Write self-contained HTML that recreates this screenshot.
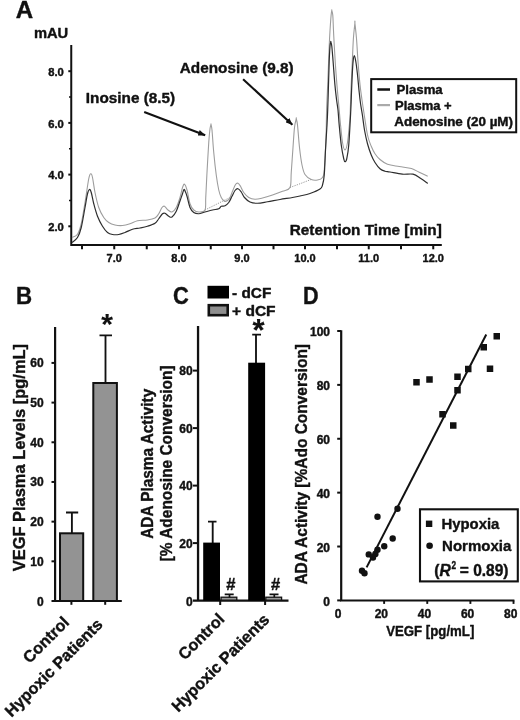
<!DOCTYPE html>
<html lang="en"><head><meta charset="utf-8"><title>Figure</title>
<style>
html,body{margin:0;padding:0;background:#fff;}
body{width:520px;height:720px;overflow:hidden;}
svg{display:block;}
text{font-family:"Liberation Sans",Arial,Helvetica,sans-serif;font-weight:bold;fill:#111;stroke:#111;stroke-width:0.4px;stroke-linejoin:round;}
</style></head><body>
<svg width="520" height="720" viewBox="0 0 520 720">
<rect width="520" height="720" fill="#fff"/>
<g id="panelA">
<text x="15.80" y="18.20" font-size="24" text-anchor="start" textLength="17.4" lengthAdjust="spacingAndGlyphs" >A</text>
<text x="33.90" y="38.30" font-size="14.5" text-anchor="start" textLength="34.3" lengthAdjust="spacingAndGlyphs" >mAU</text>
<path d="M71.25,45 V245 H441.8" fill="none" stroke="#111" stroke-width="2"/>
<line x1="68.3" x2="71" y1="71.20" y2="71.20" stroke="#111" stroke-width="2"/>
<text x="63.80" y="75.90" font-size="11" text-anchor="end" textLength="15.6" lengthAdjust="spacingAndGlyphs" >8.0</text>
<line x1="68.3" x2="71" y1="122.90" y2="122.90" stroke="#111" stroke-width="2"/>
<text x="63.80" y="127.60" font-size="11" text-anchor="end" textLength="15.6" lengthAdjust="spacingAndGlyphs" >6.0</text>
<line x1="68.3" x2="71" y1="174.60" y2="174.60" stroke="#111" stroke-width="2"/>
<text x="63.80" y="179.30" font-size="11" text-anchor="end" textLength="15.6" lengthAdjust="spacingAndGlyphs" >4.0</text>
<line x1="68.3" x2="71" y1="226.30" y2="226.30" stroke="#111" stroke-width="2"/>
<text x="63.80" y="231.00" font-size="11" text-anchor="end" textLength="15.6" lengthAdjust="spacingAndGlyphs" >2.0</text>
<line x1="69" x2="71" y1="97.05" y2="97.05" stroke="#111" stroke-width="1.6"/>
<line x1="69" x2="71" y1="148.75" y2="148.75" stroke="#111" stroke-width="1.6"/>
<line x1="69" x2="71" y1="200.45" y2="200.45" stroke="#111" stroke-width="1.6"/>
<line x1="82.00" x2="82.00" y1="245" y2="249.3" stroke="#111" stroke-width="2"/>
<line x1="114.25" x2="114.25" y1="245" y2="249.3" stroke="#111" stroke-width="2"/>
<text x="114.25" y="262.10" font-size="11" text-anchor="middle" >7.0</text>
<line x1="146.75" x2="146.75" y1="245" y2="249.3" stroke="#111" stroke-width="2"/>
<line x1="179.00" x2="179.00" y1="245" y2="249.3" stroke="#111" stroke-width="2"/>
<text x="179.00" y="262.10" font-size="11" text-anchor="middle" >8.0</text>
<line x1="210.75" x2="210.75" y1="245" y2="249.3" stroke="#111" stroke-width="2"/>
<line x1="242.00" x2="242.00" y1="245" y2="249.3" stroke="#111" stroke-width="2"/>
<text x="242.00" y="262.10" font-size="11" text-anchor="middle" >9.0</text>
<line x1="273.50" x2="273.50" y1="245" y2="249.3" stroke="#111" stroke-width="2"/>
<line x1="305.00" x2="305.00" y1="245" y2="249.3" stroke="#111" stroke-width="2"/>
<text x="305.00" y="262.10" font-size="11" text-anchor="middle" >10.0</text>
<line x1="337.00" x2="337.00" y1="245" y2="249.3" stroke="#111" stroke-width="2"/>
<line x1="368.75" x2="368.75" y1="245" y2="249.3" stroke="#111" stroke-width="2"/>
<text x="368.75" y="262.10" font-size="11" text-anchor="middle" >11.0</text>
<line x1="401.00" x2="401.00" y1="245" y2="249.3" stroke="#111" stroke-width="2"/>
<line x1="433.25" x2="433.25" y1="245" y2="249.3" stroke="#111" stroke-width="2"/>
<text x="433.25" y="262.10" font-size="11" text-anchor="middle" >12.0</text>
<text x="289.80" y="234.60" font-size="14.8" text-anchor="start" textLength="152.0" lengthAdjust="spacingAndGlyphs" >Retention Time [min]</text>
<text x="85.80" y="103.20" font-size="15.4" text-anchor="start" textLength="89.4" lengthAdjust="spacingAndGlyphs" >Inosine (8.5)</text>
<text x="179.80" y="73.20" font-size="15.4" text-anchor="start" textLength="113.9" lengthAdjust="spacingAndGlyphs" >Adenosine (9.8)</text>
<defs><marker id="ah" viewBox="0 0 10 8" refX="9.6" refY="4" markerWidth="7.4" markerHeight="5.8" markerUnits="userSpaceOnUse" orient="auto"><path d="M0,0 L10,4 L0,8 Z" fill="#111"/></marker></defs>
<line x1="144.2" y1="111.9" x2="205.2" y2="135.3" stroke="#111" stroke-width="2.1" marker-end="url(#ah)"/>
<line x1="243.1" y1="79.2" x2="292.4" y2="124.8" stroke="#111" stroke-width="2.1" marker-end="url(#ah)"/>
<path d="M205,210 L230,197.5" fill="none" stroke="#999" stroke-width="1" stroke-dasharray="1.2,1.2"/>
<path d="M290,187.5 L300,183.75 L311,179.5" fill="none" stroke="#999" stroke-width="1" stroke-dasharray="1.2,1.2"/>
<path d="M72.00,237.50 C72.92,236.96 75.96,236.54 77.50,234.25 C79.04,231.96 80.00,229.04 81.25,223.75 C82.50,218.46 83.75,210.00 85.00,202.50 C86.25,195.00 87.79,183.54 88.75,178.75 C89.71,173.96 90.12,173.96 90.75,173.75 C91.38,173.54 91.79,174.38 92.50,177.50 C93.21,180.62 93.96,187.50 95.00,192.50 C96.04,197.50 97.29,203.33 98.75,207.50 C100.21,211.67 102.08,215.00 103.75,217.50 C105.42,220.00 106.88,221.25 108.75,222.50 C110.62,223.75 112.71,224.50 115.00,225.00 C117.29,225.50 120.00,225.71 122.50,225.50 C125.00,225.29 127.50,224.54 130.00,223.75 C132.50,222.96 134.58,221.38 137.50,220.75 C140.42,220.12 144.58,220.46 147.50,220.00 C150.42,219.54 153.12,219.04 155.00,218.00 C156.88,216.96 157.58,215.50 158.75,213.75 C159.92,212.00 161.04,208.75 162.00,207.50 C162.96,206.25 163.50,205.83 164.50,206.25 C165.50,206.67 166.75,209.04 168.00,210.00 C169.25,210.96 170.62,212.42 172.00,212.00 C173.38,211.58 174.92,209.92 176.25,207.50 C177.58,205.08 178.96,200.83 180.00,197.50 C181.04,194.17 181.75,189.71 182.50,187.50 C183.25,185.29 183.75,183.83 184.50,184.25 C185.25,184.67 186.08,186.75 187.00,190.00 C187.92,193.25 188.88,200.42 190.00,203.75 C191.12,207.08 192.29,208.62 193.75,210.00 C195.21,211.38 196.88,212.00 198.75,212.00 C200.62,212.00 203.83,212.42 205.00,210.00 C206.17,207.58 205.42,203.75 205.75,197.50 C206.08,191.25 206.50,181.67 207.00,172.50 C207.50,163.33 208.25,149.79 208.75,142.50 C209.25,135.21 209.62,131.75 210.00,128.75 C210.38,125.75 210.83,125.21 211.00,124.50 C211.17,123.79 210.83,123.58 211.00,124.50 C211.17,125.42 211.54,125.33 212.00,130.00 C212.46,134.67 213.04,145.00 213.75,152.50 C214.46,160.00 215.42,168.75 216.25,175.00 C217.08,181.25 217.92,186.25 218.75,190.00 C219.58,193.75 220.29,195.62 221.25,197.50 C222.21,199.38 223.46,200.75 224.50,201.25 C225.54,201.75 226.58,201.12 227.50,200.50 C228.42,199.88 229.17,199.04 230.00,197.50 C230.83,195.96 231.58,193.42 232.50,191.25 C233.42,189.08 234.58,185.83 235.50,184.50 C236.42,183.17 237.17,182.96 238.00,183.25 C238.83,183.54 239.54,184.71 240.50,186.25 C241.46,187.79 242.38,190.62 243.75,192.50 C245.12,194.38 246.88,196.38 248.75,197.50 C250.62,198.62 252.71,199.17 255.00,199.25 C257.29,199.33 259.58,198.71 262.50,198.00 C265.42,197.29 269.17,196.12 272.50,195.00 C275.83,193.88 279.58,192.50 282.50,191.25 C285.42,190.00 288.54,190.62 290.00,187.50 C291.46,184.38 290.75,179.17 291.25,172.50 C291.75,165.83 292.46,155.00 293.00,147.50 C293.54,140.00 293.96,132.29 294.50,127.50 C295.04,122.71 295.96,120.21 296.25,118.75 C296.54,117.29 296.04,117.71 296.25,118.75 C296.46,119.79 296.96,120.21 297.50,125.00 C298.04,129.79 298.75,140.83 299.50,147.50 C300.25,154.17 301.08,160.50 302.00,165.00 C302.92,169.50 303.46,172.08 305.00,174.50 C306.54,176.92 309.17,178.58 311.25,179.50 C313.33,180.42 315.62,180.33 317.50,180.00 C319.38,179.67 321.38,179.17 322.50,177.50 C323.62,175.83 323.67,176.67 324.25,170.00 C324.83,163.33 325.61,147.50 326.00,137.50 C326.39,127.50 326.32,118.82 326.60,110.00 C326.88,101.18 327.38,92.17 327.70,84.60 C328.02,77.03 328.25,71.00 328.50,64.60 C328.75,58.20 328.95,51.83 329.20,46.20 C329.45,40.57 329.68,35.93 330.00,30.80 C330.32,25.67 330.80,18.78 331.10,15.40 C331.40,12.02 331.68,11.32 331.80,10.50 C331.92,9.68 331.63,9.68 331.80,10.50 C331.97,11.32 332.52,12.02 332.80,15.40 C333.08,18.78 333.25,25.67 333.50,30.80 C333.75,35.93 333.98,40.57 334.30,46.20 C334.62,51.83 334.97,58.20 335.40,64.60 C335.83,71.00 336.42,78.70 336.90,84.60 C337.38,90.50 337.92,95.77 338.30,100.00 C338.68,104.23 338.87,106.25 339.20,110.00 C339.53,113.75 339.75,117.08 340.30,122.50 C340.85,127.92 341.72,137.92 342.50,142.50 C343.28,147.08 344.17,150.00 345.00,150.00 C345.83,150.00 346.70,147.50 347.50,142.50 C348.30,137.50 349.33,125.42 349.80,120.00 C350.27,114.58 350.07,115.90 350.30,110.00 C350.53,104.10 350.87,92.68 351.20,84.60 C351.53,76.52 351.93,69.18 352.30,61.50 C352.67,53.82 352.97,44.92 353.40,38.50 C353.83,32.08 354.65,25.58 354.90,23.00 C355.15,20.42 354.63,20.42 354.90,23.00 C355.17,25.58 355.98,32.08 356.50,38.50 C357.02,44.92 357.42,53.82 358.00,61.50 C358.58,69.18 359.33,78.18 360.00,84.60 C360.67,91.02 361.37,95.43 362.00,100.00 C362.63,104.57 362.88,106.17 363.80,112.00 C364.72,117.83 366.26,129.29 367.50,135.00 C368.74,140.71 370.00,143.12 371.25,146.25 C372.50,149.38 373.54,151.54 375.00,153.75 C376.46,155.96 377.92,157.75 380.00,159.50 C382.08,161.25 384.30,163.08 387.50,164.25 C390.70,165.42 395.20,165.79 399.20,166.50 C403.20,167.21 408.17,167.53 411.50,168.50 C414.83,169.47 416.50,171.02 419.20,172.30 C421.90,173.58 426.28,175.55 427.70,176.20" fill="none" stroke="#9d9d9d" stroke-width="1.1" stroke-linejoin="round"/>
<path d="M72.00,242.50 C72.92,241.67 75.96,240.00 77.50,237.50 C79.04,235.00 80.00,232.50 81.25,227.50 C82.50,222.50 83.96,213.12 85.00,207.50 C86.04,201.88 86.75,196.75 87.50,193.75 C88.25,190.75 88.88,189.71 89.50,189.50 C90.12,189.29 90.54,190.12 91.25,192.50 C91.96,194.88 92.71,199.79 93.75,203.75 C94.79,207.71 96.04,212.50 97.50,216.25 C98.96,220.00 100.83,223.54 102.50,226.25 C104.17,228.96 105.83,231.12 107.50,232.50 C109.17,233.88 110.62,234.17 112.50,234.50 C114.38,234.83 116.67,234.83 118.75,234.50 C120.83,234.17 122.71,233.38 125.00,232.50 C127.29,231.62 130.00,230.00 132.50,229.25 C135.00,228.50 137.50,228.50 140.00,228.00 C142.50,227.50 145.00,227.04 147.50,226.25 C150.00,225.46 153.12,224.50 155.00,223.25 C156.88,222.00 157.50,220.33 158.75,218.75 C160.00,217.17 161.46,214.67 162.50,213.75 C163.54,212.83 163.96,212.83 165.00,213.25 C166.04,213.67 167.58,215.62 168.75,216.25 C169.92,216.88 170.75,217.83 172.00,217.00 C173.25,216.17 174.92,213.92 176.25,211.25 C177.58,208.58 178.96,203.92 180.00,201.00 C181.04,198.08 181.83,195.67 182.50,193.75 C183.17,191.83 183.50,189.79 184.00,189.50 C184.50,189.21 185.00,190.88 185.50,192.00 C186.00,193.12 186.25,193.67 187.00,196.25 C187.75,198.83 188.88,204.79 190.00,207.50 C191.12,210.21 192.29,211.46 193.75,212.50 C195.21,213.54 196.88,213.83 198.75,213.75 C200.62,213.67 202.71,212.62 205.00,212.00 C207.29,211.38 210.21,210.54 212.50,210.00 C214.79,209.46 217.29,209.38 218.75,208.75 C220.21,208.12 220.21,206.75 221.25,206.25 C222.29,205.75 223.75,206.38 225.00,205.75 C226.25,205.12 227.58,204.08 228.75,202.50 C229.92,200.92 230.96,198.25 232.00,196.25 C233.04,194.25 234.00,191.75 235.00,190.50 C236.00,189.25 236.96,188.50 238.00,188.75 C239.04,189.00 240.17,190.54 241.25,192.00 C242.33,193.46 243.04,195.83 244.50,197.50 C245.96,199.17 247.83,201.04 250.00,202.00 C252.17,202.96 254.58,203.29 257.50,203.25 C260.42,203.21 263.75,202.38 267.50,201.75 C271.25,201.12 275.83,200.21 280.00,199.50 C284.17,198.79 289.17,198.08 292.50,197.50 C295.83,196.92 297.08,196.67 300.00,196.00 C302.92,195.33 306.67,194.67 310.00,193.50 C313.33,192.33 317.92,190.42 320.00,189.00 C322.08,187.58 321.79,187.33 322.50,185.00 C323.21,182.67 323.75,180.83 324.25,175.00 C324.75,169.17 325.04,158.33 325.50,150.00 C325.96,141.67 326.63,131.67 327.00,125.00 C327.37,118.33 327.45,116.73 327.70,110.00 C327.95,103.27 328.25,92.68 328.50,84.60 C328.75,76.52 328.95,67.90 329.20,61.50 C329.45,55.10 329.73,49.48 330.00,46.20 C330.27,42.92 330.67,42.53 330.80,41.80 C330.93,41.07 330.63,41.07 330.80,41.80 C330.97,42.53 331.42,42.92 331.80,46.20 C332.18,49.48 332.58,55.10 333.10,61.50 C333.62,67.90 334.32,78.18 334.90,84.60 C335.48,91.02 336.08,95.77 336.60,100.00 C337.12,104.23 337.57,105.83 338.00,110.00 C338.43,114.17 338.66,119.17 339.20,125.00 C339.74,130.83 340.49,139.38 341.25,145.00 C342.01,150.62 343.12,155.96 343.75,158.75 C344.38,161.54 344.50,161.75 345.00,161.75 C345.50,161.75 346.12,161.54 346.75,158.75 C347.38,155.96 348.07,153.12 348.75,145.00 C349.43,136.88 350.34,118.78 350.80,110.00 C351.26,101.22 351.25,98.33 351.50,92.30 C351.75,86.27 352.03,78.93 352.30,73.80 C352.57,68.67 352.77,64.52 353.10,61.50 C353.43,58.48 353.85,55.70 354.30,55.70 C354.75,55.70 355.28,58.48 355.80,61.50 C356.32,64.52 356.83,68.67 357.40,73.80 C357.97,78.93 358.67,87.27 359.20,92.30 C359.73,97.33 360.07,100.22 360.60,104.00 C361.13,107.78 361.75,110.67 362.40,115.00 C363.05,119.33 363.65,125.21 364.50,130.00 C365.35,134.79 366.38,139.58 367.50,143.75 C368.62,147.92 370.00,151.88 371.25,155.00 C372.50,158.12 373.54,160.21 375.00,162.50 C376.46,164.79 378.33,167.29 380.00,168.75 C381.67,170.21 383.33,170.71 385.00,171.25 C386.67,171.79 387.12,171.51 390.00,172.00 C392.88,172.49 398.47,173.83 402.30,174.20 C406.13,174.57 409.92,173.48 413.00,174.20 C416.08,174.92 418.35,176.97 420.80,178.50 C423.25,180.03 426.55,182.58 427.70,183.40" fill="none" stroke="#2e2e2e" stroke-width="1.2" stroke-linejoin="round"/>
<rect x="371.2" y="79.1" width="145" height="53.2" fill="#fff" stroke="#111" stroke-width="2"/>
<line x1="377.3" x2="390" y1="89.5" y2="89.5" stroke="#111" stroke-width="2.5"/>
<line x1="377.3" x2="390" y1="105.1" y2="105.1" stroke="#aaa" stroke-width="2.2"/>
<text x="396.50" y="93.60" font-size="12.2" text-anchor="start" textLength="46.2" lengthAdjust="spacingAndGlyphs" >Plasma</text>
<text x="395.00" y="109.80" font-size="12.2" text-anchor="start" textLength="56.7" lengthAdjust="spacingAndGlyphs" >Plasma +</text>
<text x="394.30" y="126.20" font-size="12.2" text-anchor="start" textLength="118.7" lengthAdjust="spacingAndGlyphs" >Adenosine (20 µM)</text>
</g>
<g id="panelB">
<text x="15.90" y="304.30" font-size="24" text-anchor="start" textLength="16.1" lengthAdjust="spacingAndGlyphs" >B</text>
<text x="0.00" y="0.00" font-size="16.3" text-anchor="start" textLength="227.2" lengthAdjust="spacingAndGlyphs" transform="translate(24.90,571.20) rotate(-90)" >VEGF Plasma Levels [pg/mL]</text>
<path d="M55.1,327 V601 " fill="none" stroke="#111" stroke-width="2.2"/>
<path d="M51.5,601 H121.8" fill="none" stroke="#111" stroke-width="2.2"/>
<text x="43.60" y="606.00" font-size="12" text-anchor="end" >0</text>
<line x1="51.5" x2="54.5" y1="561.32" y2="561.32" stroke="#111" stroke-width="2"/>
<text x="43.60" y="565.72" font-size="12" text-anchor="end" >10</text>
<line x1="51.5" x2="54.5" y1="521.64" y2="521.64" stroke="#111" stroke-width="2"/>
<text x="43.60" y="526.04" font-size="12" text-anchor="end" >20</text>
<line x1="51.5" x2="54.5" y1="481.96" y2="481.96" stroke="#111" stroke-width="2"/>
<text x="43.60" y="486.36" font-size="12" text-anchor="end" >30</text>
<line x1="51.5" x2="54.5" y1="442.28" y2="442.28" stroke="#111" stroke-width="2"/>
<text x="43.60" y="446.68" font-size="12" text-anchor="end" >40</text>
<line x1="51.5" x2="54.5" y1="402.60" y2="402.60" stroke="#111" stroke-width="2"/>
<text x="43.60" y="407.00" font-size="12" text-anchor="end" >50</text>
<line x1="51.5" x2="54.5" y1="362.92" y2="362.92" stroke="#111" stroke-width="2"/>
<text x="43.60" y="367.32" font-size="12" text-anchor="end" >60</text>
<path d="M71.90,533.00 V512.50 M66.00,512.50 H78.20" fill="none" stroke="#111" stroke-width="1.85"/>
<path d="M105.50,383.00 V335.30 M99.50,335.30 H112.00" fill="none" stroke="#111" stroke-width="1.85"/>
<rect x="60.00" y="533.30" width="23.20" height="67.70" fill="#939393" stroke="#111" stroke-width="2"/>
<rect x="93.30" y="383.00" width="23.60" height="218.00" fill="#939393" stroke="#111" stroke-width="2"/>
<line x1="71.40" x2="71.40" y1="601" y2="604.8" stroke="#111" stroke-width="2"/>
<line x1="105.20" x2="105.20" y1="601" y2="604.8" stroke="#111" stroke-width="2"/>
<text x="107.00" y="334.20" font-size="30" text-anchor="middle" style="stroke-width:0.1px">*</text>
<text x="0.00" y="0.00" font-size="16.2" text-anchor="end" transform="translate(70.30,623.30) rotate(-45)" >Control</text>
<text x="0.00" y="0.00" font-size="16.2" text-anchor="end" transform="translate(103.70,625.50) rotate(-45)" >Hypoxic Patients</text>
</g>
<g id="panelC">
<text x="173.10" y="304.20" font-size="24" text-anchor="start" textLength="15.8" lengthAdjust="spacingAndGlyphs" >C</text>
<text x="0.00" y="0.00" font-size="16.3" text-anchor="start" textLength="150.0" lengthAdjust="spacingAndGlyphs" transform="translate(152.70,538.80) rotate(-90)" >ADA Plasma Activity</text>
<text x="0.00" y="0.00" font-size="16.3" text-anchor="start" textLength="196.0" lengthAdjust="spacingAndGlyphs" transform="translate(171.70,561.40) rotate(-90)" >[% Adenosine Conversion]</text>
<rect x="207.5" y="285.8" width="21.5" height="12.7" fill="#000"/>
<rect x="208.8" y="305.2" width="18.9" height="10" fill="#8e8e8e" stroke="#111" stroke-width="2.6"/>
<text x="232.00" y="297.80" font-size="15.4" text-anchor="start" textLength="39.3" lengthAdjust="spacingAndGlyphs" >- dCF</text>
<text x="232.00" y="315.70" font-size="15.3" text-anchor="start" textLength="43.6" lengthAdjust="spacingAndGlyphs" >+ dCF</text>
<path d="M198.05,326 V600.6" fill="none" stroke="#111" stroke-width="2.3"/>
<path d="M193,600.6 H288.5" fill="none" stroke="#111" stroke-width="2.4"/>
<text x="192.60" y="605.80" font-size="12" text-anchor="end" >0</text>
<line x1="193" x2="197" y1="543.10" y2="543.10" stroke="#111" stroke-width="2"/>
<text x="192.60" y="547.50" font-size="12" text-anchor="end" >20</text>
<line x1="193" x2="197" y1="485.60" y2="485.60" stroke="#111" stroke-width="2"/>
<text x="192.60" y="490.00" font-size="12" text-anchor="end" >40</text>
<line x1="193" x2="197" y1="428.10" y2="428.10" stroke="#111" stroke-width="2"/>
<text x="192.60" y="432.50" font-size="12" text-anchor="end" >60</text>
<line x1="193" x2="197" y1="370.60" y2="370.60" stroke="#111" stroke-width="2"/>
<text x="192.60" y="375.00" font-size="12" text-anchor="end" >80</text>
<path d="M212.70,544.00 V521.60 M208.00,521.60 H216.50" fill="none" stroke="#111" stroke-width="1.85"/>
<path d="M256.00,364.00 V334.60 M252.20,334.60 H261.00" fill="none" stroke="#111" stroke-width="1.85"/>
<rect x="203.2" y="542.6" width="16.8" height="58" fill="#000"/>
<rect x="248.2" y="362.7" width="16.9" height="238" fill="#000"/>
<path d="M229.50,598 V594.3 M224.70,594.3 H233.70" fill="none" stroke="#111" stroke-width="1.7"/>
<rect x="221.00" y="597.2" width="15.80" height="3" fill="#999" stroke="#111" stroke-width="1.3"/>
<text x="230.90" y="590.00" font-size="16.5" text-anchor="middle" >#</text>
<path d="M274.30,598 V594.3 M269.50,594.3 H278.50" fill="none" stroke="#111" stroke-width="1.7"/>
<rect x="265.80" y="597.2" width="15.80" height="3" fill="#999" stroke="#111" stroke-width="1.3"/>
<text x="275.70" y="590.00" font-size="16.5" text-anchor="middle" >#</text>
<line x1="220.20" x2="220.20" y1="600.6" y2="605" stroke="#111" stroke-width="2"/>
<line x1="265.10" x2="265.10" y1="600.6" y2="605" stroke="#111" stroke-width="2"/>
<text x="258.60" y="341.40" font-size="31" text-anchor="middle" style="stroke-width:0.1px">*</text>
<text x="0.00" y="0.00" font-size="16.2" text-anchor="end" transform="translate(225.40,620.00) rotate(-45)" >Control</text>
<text x="0.00" y="0.00" font-size="16.2" text-anchor="end" transform="translate(270.40,620.60) rotate(-45)" >Hypoxic Patients</text>
</g>
<g id="panelD">
<text x="302.90" y="304.30" font-size="24" text-anchor="start" textLength="15.6" lengthAdjust="spacingAndGlyphs" >D</text>
<text x="0.00" y="0.00" font-size="15.6" text-anchor="start" textLength="240.6" lengthAdjust="spacingAndGlyphs" transform="translate(306.90,584.60) rotate(-90)" >ADA Activity [%Ado Conversion]</text>
<path d="M341.2,330.2 V600.5 H514.4" fill="none" stroke="#111" stroke-width="2.2"/>
<line x1="337.2" x2="341" y1="600.40" y2="600.40" stroke="#111" stroke-width="2"/>
<text x="330.00" y="605.80" font-size="12" text-anchor="end" >0</text>
<line x1="337.2" x2="341" y1="546.52" y2="546.52" stroke="#111" stroke-width="2"/>
<text x="330.00" y="551.62" font-size="12" text-anchor="end" >20</text>
<line x1="337.2" x2="341" y1="492.64" y2="492.64" stroke="#111" stroke-width="2"/>
<text x="330.00" y="497.74" font-size="12" text-anchor="end" >40</text>
<line x1="337.2" x2="341" y1="438.76" y2="438.76" stroke="#111" stroke-width="2"/>
<text x="330.00" y="443.86" font-size="12" text-anchor="end" >60</text>
<line x1="337.2" x2="341" y1="384.88" y2="384.88" stroke="#111" stroke-width="2"/>
<text x="330.00" y="389.98" font-size="12" text-anchor="end" >80</text>
<line x1="337.2" x2="341" y1="331.00" y2="331.00" stroke="#111" stroke-width="2"/>
<text x="330.00" y="336.10" font-size="12" text-anchor="end" >100</text>
<text x="338.20" y="617.80" font-size="12" text-anchor="middle" >0</text>
<line x1="384.13" x2="384.13" y1="600.5" y2="603.9" stroke="#111" stroke-width="1.9"/>
<text x="381.33" y="617.80" font-size="12" text-anchor="middle" >20</text>
<line x1="427.26" x2="427.26" y1="600.5" y2="603.9" stroke="#111" stroke-width="1.9"/>
<text x="424.46" y="617.80" font-size="12" text-anchor="middle" >40</text>
<line x1="470.39" x2="470.39" y1="600.5" y2="603.9" stroke="#111" stroke-width="1.9"/>
<text x="467.59" y="617.80" font-size="12" text-anchor="middle" >60</text>
<line x1="513.52" x2="513.52" y1="600.5" y2="603.9" stroke="#111" stroke-width="1.9"/>
<text x="510.72" y="617.80" font-size="12" text-anchor="middle" >80</text>
<text x="386.20" y="635.90" font-size="14.8" text-anchor="start" textLength="88.1" lengthAdjust="spacingAndGlyphs" >VEGF [pg/mL]</text>
<line x1="366.6" y1="567.4" x2="486.25" y2="334.5" stroke="#111" stroke-width="2"/>
<rect x="493.50" y="333.00" width="6.5" height="6.5" fill="#111"/>
<rect x="480.50" y="344.00" width="6.5" height="6.5" fill="#111"/>
<rect x="486.75" y="365.50" width="6.5" height="6.5" fill="#111"/>
<rect x="465.00" y="365.75" width="6.5" height="6.5" fill="#111"/>
<rect x="454.25" y="373.50" width="6.5" height="6.5" fill="#111"/>
<rect x="426.25" y="376.25" width="6.5" height="6.5" fill="#111"/>
<rect x="413.25" y="379.00" width="6.5" height="6.5" fill="#111"/>
<rect x="454.25" y="387.00" width="6.5" height="6.5" fill="#111"/>
<rect x="439.25" y="411.00" width="6.5" height="6.5" fill="#111"/>
<rect x="450.00" y="422.25" width="6.5" height="6.5" fill="#111"/>
<circle cx="397.50" cy="508.75" r="3.2" fill="#111"/>
<circle cx="377.50" cy="516.75" r="3.2" fill="#111"/>
<circle cx="392.70" cy="538.50" r="3.2" fill="#111"/>
<circle cx="384.25" cy="546.25" r="3.2" fill="#111"/>
<circle cx="377.50" cy="549.70" r="3.2" fill="#111"/>
<circle cx="375.40" cy="554.00" r="3.2" fill="#111"/>
<circle cx="368.75" cy="554.40" r="3.2" fill="#111"/>
<circle cx="373.00" cy="557.50" r="3.2" fill="#111"/>
<circle cx="362.00" cy="570.75" r="3.2" fill="#111"/>
<circle cx="364.50" cy="573.25" r="3.2" fill="#111"/>
<rect x="420" y="509.3" width="97.8" height="72.1" fill="#fff" stroke="#111" stroke-width="2.1"/>
<rect x="425.9" y="520.6" width="6.4" height="6.4" fill="#111"/>
<circle cx="429.6" cy="545.7" r="3.3" fill="#111"/>
<text x="441.50" y="529.30" font-size="15.5" text-anchor="start" textLength="57.9" lengthAdjust="spacingAndGlyphs" >Hypoxia</text>
<text x="442.10" y="551.30" font-size="15.5" text-anchor="start" textLength="69.2" lengthAdjust="spacingAndGlyphs" >Normoxia</text>
<text x="434.3" y="576" font-size="16" textLength="16.5" lengthAdjust="spacingAndGlyphs">(<tspan font-style="italic">R</tspan></text>
<text x="451.50" y="568.80" font-size="11" text-anchor="start" textLength="4.6" lengthAdjust="spacingAndGlyphs" >2</text>
<text x="459.80" y="576.00" font-size="16" text-anchor="start" textLength="48.7" lengthAdjust="spacingAndGlyphs" >= 0.89)</text>
</g>
</svg>
</body></html>
